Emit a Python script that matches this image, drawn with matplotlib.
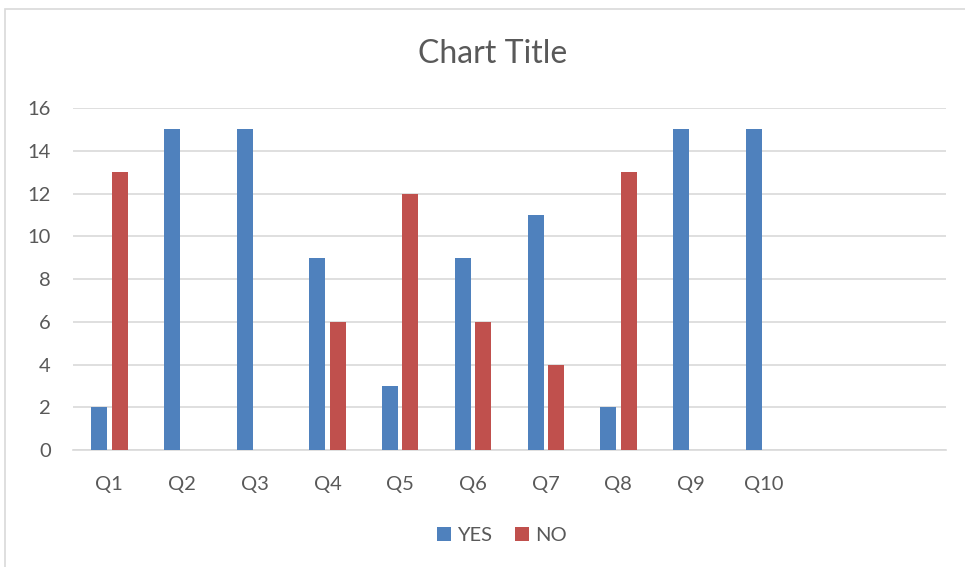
import numpy as np
import matplotlib.pyplot as plt
import matplotlib.patches as patches

# Survey answers per question
questions = ["Q1", "Q2", "Q3", "Q4", "Q5", "Q6", "Q7", "Q8", "Q9", "Q10", "", ""]
yes_counts = [2, 15, 15, 9, 3, 9, 11, 2, 15, 15, 0, 0]
no_counts = [13, 0, 0, 6, 12, 6, 4, 13, 0, 0, 0, 0]

BLUE = "#4f81bd"
RED = "#c0504d"
TEXT = "#595959"
GRID = "#d9d9d9"

plt.rcParams['font.family'] = ['Lato', 'DejaVu Sans']

fig = plt.figure(figsize=(9.65, 5.67), dpi=100)
ax = fig.add_axes([0.0756, 0.2063, 0.9044, 0.6032])

x = np.arange(len(questions))
w = 0.22
ax.bar(x - 0.14, yes_counts, w, color=BLUE, label="YES", zorder=3)
ax.bar(x + 0.14, no_counts, w, color=RED, label="NO", zorder=3)

ax.set_xlim(-0.5, len(questions) - 0.5)
ax.set_ylim(0, 16)
ax.set_yticks(range(0, 17, 2))
ax.set_xticks(x)
ax.set_xticklabels(questions)
ax.grid(axis='y', color=GRID, linewidth=1.2, zorder=0)
ax.tick_params(axis='both', length=0, colors=TEXT, labelsize=14.5)
ax.tick_params(axis='x', pad=19)
ax.tick_params(axis='y', pad=16)
for s in ['top', 'right', 'left']:
    ax.spines[s].set_visible(False)
ax.spines['bottom'].set_color(GRID)
ax.spines['bottom'].set_linewidth(1.2)

fig.text(0.511, 0.905, "Chart Title", ha='center', va='center',
         fontsize=23, color=TEXT)

fig.legend(loc='center', bbox_to_anchor=(0.520, 0.056), ncol=2, frameon=False,
           fontsize=14.5, handlelength=0.7, handleheight=0.7, handletextpad=0.3,
           columnspacing=1.1, labelcolor=TEXT)

# outer chart frame
fig.patches.append(patches.Rectangle((5 / 965, -0.1), 1.2, 1 - 9 / 567 + 0.1,
                                     transform=fig.transFigure, fill=False,
                                     edgecolor="#d9d9d9", linewidth=1.2))

fig.savefig("out.png", dpi=100)
